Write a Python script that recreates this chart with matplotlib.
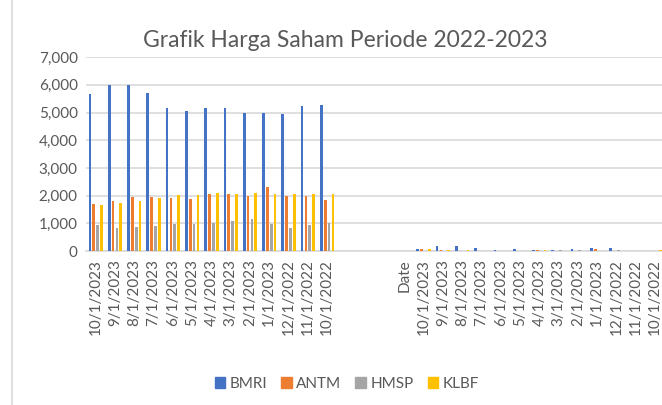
import numpy as np
import matplotlib.pyplot as plt
from matplotlib.patches import Patch
from matplotlib.lines import Line2D

plt.rcParams['font.family'] = ['Lato', 'DejaVu Sans']

# categories: 13 months, 3 empty slots, 'Date' header, 13 months again
months = ['10/1/2023', '9/1/2023', '8/1/2023', '7/1/2023', '6/1/2023', '5/1/2023', '4/1/2023',
          '3/1/2023', '2/1/2023', '1/1/2023', '12/1/2022', '11/1/2022', '10/1/2022']
labels = months + ['', '', '', 'Date'] + months

# prices (first block)
bmri = [5675, 6000, 6000, 5700, 5175, 5050, 5175, 5150, 4980, 4980, 4950, 5250, 5275]
antm = [1705, 1800, 1970, 1970, 1930, 1870, 2060, 2060, 1975, 2305, 1975, 1975, 1830]
hmsp = [930, 840, 875, 915, 970, 985, 1000, 1085, 1160, 970, 830, 950, 1000]
klbf = [1670, 1740, 1800, 1910, 2040, 2015, 2090, 2045, 2090, 2045, 2060, 2045, 2045]

# second block (small values)
bmri2 = [60, 170, 190, 110, 40, 60, 40, 40, 80, 110, 110, 0, 0]
antm2 = [60, 50, 0, 0, 0, 0, 50, 0, 0, 90, 0, 0, 0]
hmsp2 = [0, 0, 0, 0, 0, 0, 0, 30, 30, 0, 30, 0, 0]
klbf2 = [60, 40, 40, 0, 0, 0, 40, 0, 0, 0, 0, 0, 40]

gap = [np.nan] * 4
series = {
    'BMRI': (bmri + gap + bmri2, '#4472C4'),
    'ANTM': (antm + gap + antm2, '#ED7D31'),
    'HMSP': (hmsp + gap + hmsp2, '#A5A5A5'),
    'KLBF': (klbf + gap + klbf2, '#FFC000'),
}

txt = '#595959'
fig = plt.figure(figsize=(6.62, 4.05), dpi=100)
ax = fig.add_axes([0.130, 0.380, 0.874, 0.479])

x = np.arange(len(labels))
pitch = 0.2
for k, (name, (vals, col)) in enumerate(series.items()):
    ax.bar(x + (k - 1.5) * pitch, vals, width=0.14, color=col, zorder=3)

ax.set_xlim(-0.5, len(labels) - 0.5)
ax.set_ylim(0, 7000)
ax.set_yticks(range(0, 7001, 1000))
ax.set_yticklabels([f'{v:,}' for v in range(0, 7001, 1000)])
ax.set_xticks(x)
ax.set_xticklabels(labels, rotation=90)
ax.grid(axis='y', color='#D9D9D9', linewidth=1.2, zorder=0)
ax.tick_params(axis='both', length=0, labelsize=11, colors=txt)
ax.tick_params(axis='y', pad=6)
ax.tick_params(axis='x', pad=6)
for s in ['top', 'right', 'left']:
    ax.spines[s].set_visible(False)
ax.spines['bottom'].set_color('#D9D9D9')
ax.spines['bottom'].set_linewidth(1.2)

fig.text(0.521, 0.90, 'Grafik Harga Saham Periode 2022-2023', ha='center', va='center',
         fontsize=16.5, color=txt)

handles = [Patch(color=c) for _, (_, c) in series.items()]
fig.legend(handles, list(series.keys()), loc='center', bbox_to_anchor=(0.524, 0.052),
           ncol=4, frameon=False, fontsize=11, handlelength=0.7, handleheight=0.7,
           handletextpad=0.3, columnspacing=0.9, labelcolor=txt)

# chart border on the left
fig.add_artist(Line2D([0.018, 0.018], [0, 1], color='#D9D9D9', linewidth=1.2))

fig.savefig('out.png', dpi=100)
